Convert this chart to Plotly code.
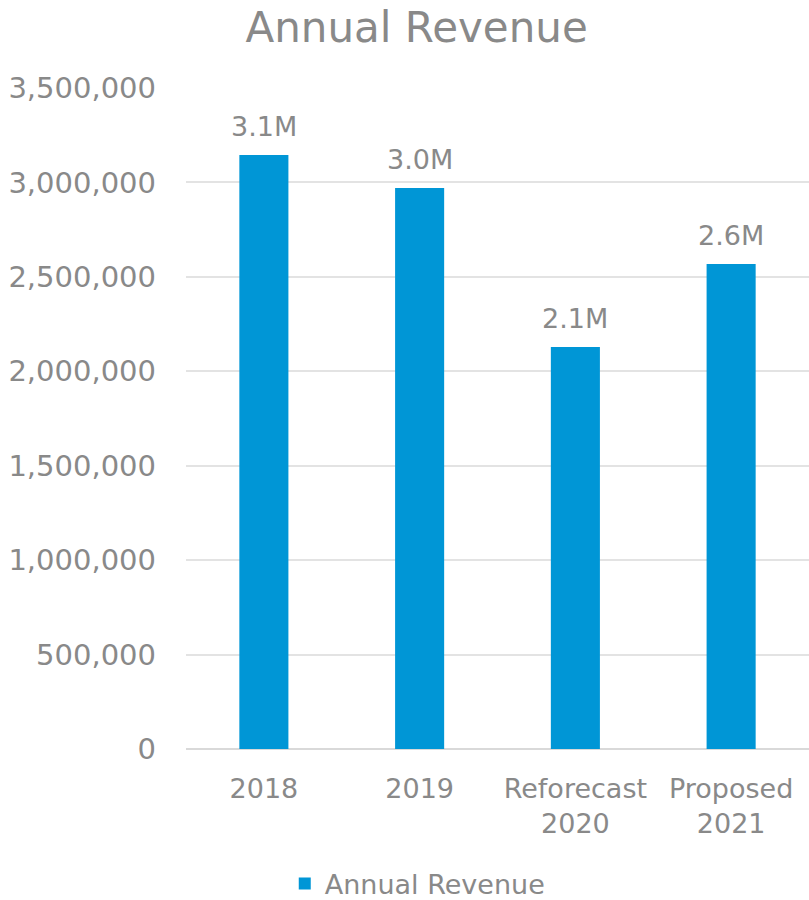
import plotly.graph_objects as go

categories = ["2018", "2019", "Reforecast<br>2020", "Proposed<br>2021"]
revenue = [3145000, 2970000, 2128000, 2568000]
value_labels = ["3.1M", "3.0M", "2.1M", "2.6M"]
y_ticks = [0, 500000, 1000000, 1500000, 2000000, 2500000, 3000000, 3500000]
y_tick_text = ["0", "500,000", "1,000,000", "1,500,000", "2,000,000",
               "2,500,000", "3,000,000", "3,500,000"]

BAR = "#0096d6"
TEXT = "#898989"
FONT = "DejaVu Sans, Liberation Sans, sans-serif"

fig = go.Figure(
    go.Bar(
        x=categories,
        y=revenue,
        name="Annual Revenue",
        marker=dict(color=BAR, line=dict(width=0)),
        cliponaxis=False,
    )
)

# value labels sit a little above each bar top (x given as category index)
for idx, (val, lab) in enumerate(zip(revenue, value_labels)):
    fig.add_annotation(
        x=idx, y=val, text=lab,
        showarrow=False,
        xanchor="center", yanchor="bottom",
        yshift=11,
        font=dict(size=27, color=TEXT, family=FONT),
    )

fig.update_layout(
    width=809,
    height=900,
    margin=dict(l=186, r=0, t=88, b=151, autoexpand=False),
    paper_bgcolor="white",
    plot_bgcolor="white",
    font=dict(family=FONT, color=TEXT, size=27),
    title=dict(
        text="Annual Revenue",
        x=0.515, xanchor="center",
        y=0.97, yanchor="middle",
        font=dict(size=42, color=TEXT, family=FONT),
    ),
    bargap=0.685,
    showlegend=True,
    legend=dict(
        orientation="h",
        x=0.372, xanchor="center",
        y=-0.204, yanchor="middle",
        font=dict(size=27, color=TEXT, family=FONT),
        itemwidth=30,
    ),
    xaxis=dict(
        type="category",
        categoryorder="array",
        categoryarray=categories,
        range=[-0.5, len(categories) - 0.5],
        showgrid=False,
        showline=False,
        ticks="",
        tickfont=dict(size=27, color=TEXT, family=FONT),
        ticklabelstandoff=21,
        automargin=False,
    ),
    yaxis=dict(
        range=[0, 3500000],
        tickvals=y_ticks,
        ticktext=y_tick_text,
        showgrid=True,
        gridcolor="#e3e3e3",
        gridwidth=2,
        zeroline=True,
        zerolinecolor="#d9d9d9",
        zerolinewidth=2,
        showline=False,
        ticks="",
        tickfont=dict(size=29, color=TEXT, family=FONT),
        ticklabelstandoff=29,
        automargin=False,
    ),
)

fig.write_html("out.html")
